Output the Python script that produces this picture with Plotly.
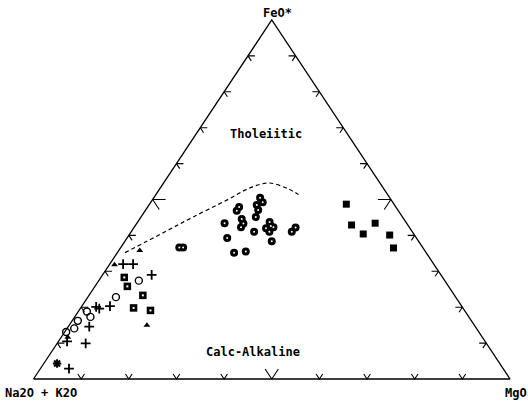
import plotly.graph_objects as go

# AFM diagram: FeO* (apex), Na2O+K2O (left), MgO (right), values in wt% of the A+F+M sum

# Shaded circles
ball_feo = [36.6, 36.6, 43.4, 46.9, 47.9, 44.6, 43.3, 42.3, 39.3, 35.2, 35.5, 50.5, 49.2,
            48.5, 47.1, 45.1, 41.0, 43.7, 42.6, 42.0, 42.3, 41.0, 38.4, 42.2, 41.0]
ball_mgo = [12.3, 13.1, 18.4, 19.2, 19.2, 21.4, 22.4, 22.4, 21.0, 24.5, 26.8, 22.3, 23.5,
            22.6, 23.6, 24.1, 25.8, 27.7, 28.5, 27.8, 29.2, 29.0, 30.8, 33.9, 33.7]
ball_alk = [51.1, 50.3, 38.2, 33.9, 32.9, 34.0, 34.3, 35.3, 39.7, 40.3, 37.7, 27.2, 27.3,
            28.9, 29.3, 30.8, 33.2, 28.6, 28.9, 30.2, 28.5, 30.0, 30.8, 23.9, 25.3]

# Solid squares
sq_feo = [48.7, 42.9, 40.4, 43.4, 40.1, 36.5]
sq_mgo = [41.3, 45.3, 49.0, 50.0, 54.7, 57.3]
sq_alk = [10.0, 11.8, 10.6, 6.6, 5.2, 6.2]

# Dotted squares
dsq_feo = [28.3, 25.8, 23.3, 19.8, 19.1]
dsq_mgo = [4.9, 6.8, 11.3, 11.1, 15.0]
dsq_alk = [66.8, 67.4, 65.4, 69.1, 65.9]

# Open circles
oc_feo = [27.4, 22.8, 18.8, 17.3, 16.2, 14.1, 13.1]
oc_mgo = [8.4, 5.9, 1.8, 3.3, 1.2, 1.5, 0.3]
oc_alk = [64.2, 71.3, 79.4, 79.4, 82.6, 84.4, 86.6]

# Crosses
cr_feo = [32.0, 32.0, 29.0, 20.3, 19.6, 20.1, 14.6, 9.9, 2.9, 10.5]
cr_mgo = [2.8, 4.9, 10.3, 5.9, 4.0, 3.1, 4.4, 6.0, 6.0, 1.8]
cr_alk = [65.2, 63.1, 60.7, 73.8, 76.4, 76.8, 81.0, 84.1, 91.1, 87.7]

# Triangles
tri_feo = [31.8, 35.8, 15.0, 11.6]
tri_mgo = [1.1, 4.4, 16.3, 1.4]
tri_alk = [67.1, 59.8, 68.7, 87.0]

# Asterisk
ast_feo = [4.3]
ast_mgo = [2.8]
ast_alk = [92.9]

# Tholeiitic / calc-alkaline dividing line
div_feo = [35.2, 41.0, 45.1, 49.9, 52.9, 54.2, 54.6, 53.1, 51.4]
div_mgo = [1.6, 7.1, 10.9, 15.7, 18.4, 20.4, 22.3, 26.7, 29.9]
div_alk = [63.2, 51.9, 44.0, 34.4, 28.7, 25.4, 23.1, 20.2, 18.7]

tick_pct = [10, 20, 30, 40, 50, 60, 70, 80, 90]

W, H = 528, 401
X0, X1 = 33.5, 510.0   # pixel x of the two base corners
YB, YT = 379.0, 20.0   # pixel y of base and apex


def to_xy(feo, mgo, alk):
    xs, ys = [], []
    for f, m, a in zip(feo, mgo, alk):
        s = f + m + a
        f, m = f / s, m / s
        xs.append(m + f / 2)
        ys.append(f)
    return xs, ys


sx = X1 - X0
sy = YB - YT
xr = [-X0 / sx, (W - X0) / sx]
yr = [-(H - YB) / sy, 1 + YT / sy]

fig = go.Figure()

# triangle frame
fig.add_trace(go.Scatter(x=[0, 1, 0.5, 0], y=[0, 0, 1, 0], mode="lines",
                         line=dict(color="black", width=1.3), hoverinfo="skip"))

# edge ticks: short stubs along the two grid directions meeting each edge
ux_h = 1 / sx                      # one pixel horizontally
ulen = ((0.5 * sx) ** 2 + sy ** 2) ** 0.5   # pixels per unit along a slanted edge
tx, ty = [], []
for p in tick_pct:
    t = p / 100
    big = p == 50
    Ls = 12 if big else 6      # slanted stub length (px)
    Lh = 13 if big else 7      # horizontal stub length (px)
    k = Ls / ulen
    # base edge (A-M): V opening upwards
    bx = t
    tx += [bx - 0.5 * k, bx, bx + 0.5 * k, None]
    ty += [k, 0, k, None]
    # left edge (A-F)
    lx, ly = 0.5 * t, t
    tx += [lx + Lh * ux_h, lx, lx + 0.5 * k, None]
    ty += [ly, ly, ly - k, None]
    # right edge (M-F)
    rx, ry = 1 - 0.5 * t, t
    tx += [rx - Lh * ux_h, rx, rx - 0.5 * k, None]
    ty += [ry, ry, ry - k, None]
fig.add_trace(go.Scatter(x=tx, y=ty, mode="lines",
                         line=dict(color="black", width=1.1), hoverinfo="skip"))

# dividing line
x, y = to_xy(div_feo, div_mgo, div_alk)
fig.add_trace(go.Scatter(x=x, y=y, mode="lines", line_shape="spline",
                         line=dict(color="black", width=1.2, dash="4px,3px")))

# samples
x, y = to_xy(ball_feo, ball_mgo, ball_alk)
fig.add_trace(go.Scatter(x=x, y=y, mode="markers",
                         marker=dict(symbol="circle", size=8, color="black",
                                     line=dict(width=0))))
fig.add_trace(go.Scatter(x=x, y=y, mode="markers",
                         marker=dict(symbol="circle", size=2, color="white",
                                     line=dict(width=0))))
x, y = to_xy(sq_feo, sq_mgo, sq_alk)
fig.add_trace(go.Scatter(x=x, y=y, mode="markers",
                         marker=dict(symbol="square", size=7, color="black",
                                     line=dict(width=0))))
x, y = to_xy(dsq_feo, dsq_mgo, dsq_alk)
fig.add_trace(go.Scatter(x=x, y=y, mode="markers",
                         marker=dict(symbol="square", size=7.5, color="black",
                                     line=dict(width=0))))
fig.add_trace(go.Scatter(x=x, y=y, mode="markers",
                         marker=dict(symbol="square", size=2, color="white",
                                     line=dict(width=0))))
x, y = to_xy(oc_feo, oc_mgo, oc_alk)
fig.add_trace(go.Scatter(x=x, y=y, mode="markers",
                         marker=dict(symbol="circle-open", size=7, color="black",
                                     line=dict(width=1.4))))
x, y = to_xy(cr_feo, cr_mgo, cr_alk)
fig.add_trace(go.Scatter(x=x, y=y, mode="markers",
                         marker=dict(symbol="cross-thin-open", size=7, color="black",
                                     line=dict(width=1.8))))
x, y = to_xy(tri_feo, tri_mgo, tri_alk)
fig.add_trace(go.Scatter(x=x, y=y, mode="markers",
                         marker=dict(symbol="triangle-up", size=6, color="black")))
x, y = to_xy(ast_feo, ast_mgo, ast_alk)
fig.add_trace(go.Scatter(x=x, y=y, mode="markers",
                         marker=dict(symbol="asterisk-open", size=7, color="black",
                                     line=dict(width=2))))

FONT = dict(family="DejaVu Sans Mono", size=12, color="black")


def label(text, px, py, anchor="center"):
    fig.add_annotation(text="<b>%s</b>" % text, x=px / W, y=1 - py / H,
                       xref="paper", yref="paper", xanchor=anchor, yanchor="middle",
                       showarrow=False, font=FONT)


label("FeO*", 277, 13)
label("Tholeiitic", 266, 134)
label("Calc-Alkaline", 253, 352)
label("Na2O + K2O", 3, 393, "left")
label("MgO", 529, 393, "right")

fig.update_layout(width=W, height=H, autosize=False, showlegend=False,
                  margin=dict(l=0, r=0, t=0, b=0),
                  paper_bgcolor="white", plot_bgcolor="white",
                  xaxis=dict(range=xr, visible=False, fixedrange=True),
                  yaxis=dict(range=yr, visible=False, fixedrange=True))

fig.write_html("out.html")
